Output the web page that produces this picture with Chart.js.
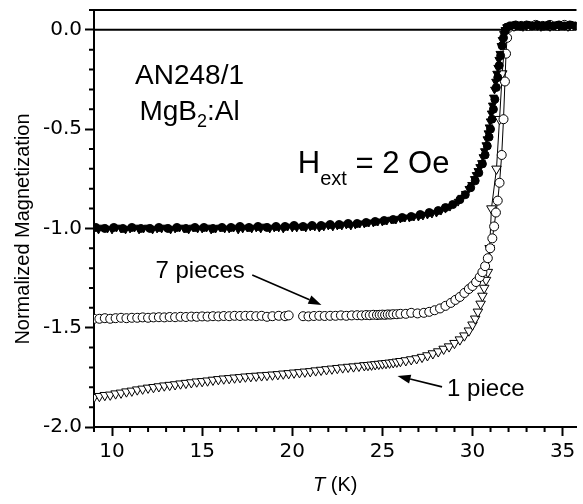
<!DOCTYPE html>
<html>
<head>
<meta charset="utf-8">
<script src="https://cdn.jsdelivr.net/npm/chart.js@4"></script>
<style>
  html, body { margin: 0; padding: 0; background: #fff; }
  canvas { display: block; }
</style>
</head>
<body>
<canvas id="graficoMagnetizacao" width="583" height="504"></canvas>
<script>
// Temperatura (K) e magnetização normalizada de cada série

// 7 pedaços, círculos abertos
const tSeteAberto = [9.0, 9.3, 9.6, 9.9, 10.2, 10.5, 10.8, 11.1, 11.4, 11.7, 12.0, 12.3, 12.6, 12.9, 13.2, 13.5, 13.8, 14.1, 14.4, 14.7,
    15.0, 15.3, 15.6, 15.9, 16.2, 16.5, 16.8, 17.1, 17.4, 17.7, 18.0, 18.3, 18.6, 18.9, 19.25, 19.6, 19.8,
    20.6, 20.9, 21.2, 21.5, 21.8, 22.1, 22.4, 22.7, 23.0, 23.3, 23.6, 23.85, 24.1, 24.3, 24.5, 24.7, 24.85, 25.0, 25.15, 25.3,
    25.45, 25.6, 25.8, 26.0, 26.3, 26.6, 26.95, 27.3, 27.6, 27.9, 28.2, 28.5, 28.8, 29.05, 29.3, 29.55, 29.8, 30.0, 30.2, 30.4,
    30.55, 30.7, 30.85, 30.98, 31.1, 31.2, 31.3, 31.4, 31.5, 31.62, 31.72, 31.8, 31.86, 31.92, 32.0, 32.3, 32.7, 33.1, 33.5,
    33.9, 34.3, 34.7, 35.1, 35.5];
const mSeteAberto = [-1.455, -1.455, -1.452, -1.455, -1.452, -1.45, -1.452, -1.45, -1.45, -1.448, -1.45, -1.448, -1.447, -1.448, -1.446, -1.447, -1.445, -1.446, -1.444, -1.445,
    -1.443, -1.444, -1.442, -1.443, -1.441, -1.442, -1.44, -1.441, -1.44, -1.44, -1.442, -1.44, -1.445, -1.442, -1.44, -1.442, -1.438,
    -1.442, -1.443, -1.441, -1.44, -1.441, -1.44, -1.44, -1.438, -1.44, -1.438, -1.437, -1.438, -1.436, -1.437, -1.435, -1.436, -1.435, -1.434, -1.435, -1.433,
    -1.434, -1.432, -1.432, -1.43, -1.43, -1.425, -1.428, -1.425, -1.42, -1.412, -1.403, -1.39, -1.375, -1.36, -1.345, -1.325, -1.305, -1.29, -1.27, -1.245,
    -1.22, -1.19, -1.15, -1.10, -1.05, -0.99, -0.92, -0.86, -0.77, -0.63, -0.45, -0.26, -0.12, -0.04, 0.01, 0.02, 0.02, 0.02, 0.025,
    0.02, 0.025, 0.02, 0.025, 0.02];

// 1 pedaço, triângulos abertos
const tUmAberto = [9.0, 9.3, 9.6, 9.9, 10.2, 10.5, 10.8, 11.1, 11.4, 11.7, 12.0, 12.3, 12.6, 12.9, 13.2, 13.5, 13.8, 14.1, 14.4, 14.7,
    15.0, 15.3, 15.6, 15.9, 16.2, 16.5, 16.8, 17.1, 17.4, 17.7, 18.0, 18.3, 18.6, 18.9, 19.2, 19.5, 19.8, 20.1, 20.4, 20.7,
    21.0, 21.3, 21.6, 21.9, 22.2, 22.5, 22.8, 23.1, 23.4, 23.7, 24.0, 24.2, 24.4, 24.6, 24.8, 25.0, 25.2, 25.4, 25.6, 25.8,
    26.0, 26.3, 26.6, 26.9, 27.2, 27.5, 27.8, 28.1, 28.4, 28.7, 29.0, 29.3, 29.55, 29.8, 30.0, 30.15, 30.3, 30.45, 30.55, 30.65,
    30.75, 30.85, 30.95, 31.05, 31.33, 31.5, 31.65, 31.8, 31.95, 32.3, 32.8, 33.3, 33.8, 34.3, 34.8, 35.3];
const mUmAberto = [-1.85, -1.845, -1.84, -1.838, -1.832, -1.828, -1.822, -1.818, -1.812, -1.808, -1.803, -1.8, -1.796, -1.792, -1.789, -1.786, -1.782, -1.779, -1.776, -1.772,
    -1.77, -1.767, -1.763, -1.76, -1.757, -1.755, -1.752, -1.75, -1.747, -1.745, -1.743, -1.741, -1.739, -1.737, -1.735, -1.732, -1.73, -1.727, -1.725, -1.722,
    -1.72, -1.716, -1.713, -1.71, -1.707, -1.704, -1.701, -1.698, -1.696, -1.693, -1.69, -1.689, -1.687, -1.685, -1.683, -1.681, -1.679, -1.677, -1.675, -1.672,
    -1.669, -1.665, -1.66, -1.655, -1.648, -1.64, -1.63, -1.62, -1.607, -1.595, -1.578, -1.56, -1.54, -1.515, -1.485, -1.455, -1.42, -1.38, -1.34, -1.30,
    -1.26, -1.22, -1.10, -0.90, -0.70, -0.45, -0.22, -0.05, 0.01, 0.02, 0.02, 0.025, 0.02, 0.02, 0.025, 0.02];

// triângulos cheios
const tTrianguloCheio = [9.0, 9.25, 9.5, 9.75, 10.0, 10.25, 10.5, 10.75, 11.0, 11.25, 11.5, 11.75, 12.0, 12.25, 12.5, 12.75, 13.0, 13.25, 13.5, 13.75,
    14.0, 14.25, 14.5, 14.75, 15.0, 15.25, 15.5, 15.75, 16.0, 16.25, 16.5, 16.75, 17.0, 17.25, 17.5, 17.75, 18.0, 18.25, 18.5, 18.75,
    19.0, 19.25, 19.5, 19.75, 20.0, 20.25, 20.5, 20.75, 21.0, 21.25, 21.5, 21.75, 22.0, 22.25, 22.5, 22.75, 23.0, 23.25, 23.5, 23.75,
    24.0, 24.25, 24.5, 24.75, 25.0, 25.25, 25.5, 25.75, 26.0, 26.25, 26.5, 26.75, 27.0, 27.25, 27.5, 27.75, 28.0, 28.25, 28.5, 28.75,
    29.0, 29.2, 29.4, 29.6, 29.8, 29.95, 30.1, 30.2, 30.3, 30.4, 30.5, 30.58, 30.66, 30.74, 30.8, 30.86, 30.92, 30.98, 31.04, 31.1,
    31.16, 31.22, 31.28, 31.34, 31.4, 31.46, 31.52, 31.58, 31.64, 31.72, 31.8, 31.9, 32.0, 32.2, 32.4, 32.6, 32.8, 33.0, 33.2, 33.4,
    33.6, 33.8, 34.0, 34.2, 34.4, 34.6, 34.8, 35.0, 35.2, 35.4, 35.6, 35.8];
const mTrianguloCheio = [-1.0, -1.005, -0.995, -1.0, -1.005, -0.995, -1.0, -1.005, -1.0, -0.995, -1.005, -1.0, -0.995, -1.005, -1.0, -1.0, -0.995, -1.005, -1.0, -0.995,
    -1.0, -1.005, -0.995, -1.0, -1.0, -0.995, -1.005, -1.0, -0.995, -1.0, -1.0, -0.995, -1.005, -1.0, -0.995, -1.0, -0.995, -1.0, -0.99, -1.0,
    -0.995, -0.995, -1.0, -0.99, -0.995, -0.995, -0.99, -0.995, -0.99, -0.99, -0.995, -0.99, -0.985, -0.99, -0.985, -0.985, -0.98, -0.985, -0.98, -0.975,
    -0.975, -0.97, -0.97, -0.965, -0.965, -0.96, -0.955, -0.955, -0.95, -0.945, -0.945, -0.94, -0.94, -0.935, -0.93, -0.925, -0.92, -0.91, -0.90, -0.89,
    -0.875, -0.865, -0.845, -0.825, -0.80, -0.78, -0.75, -0.73, -0.71, -0.69, -0.67, -0.64, -0.61, -0.58, -0.55, -0.52, -0.49, -0.46, -0.42, -0.38,
    -0.34, -0.30, -0.26, -0.22, -0.19, -0.15, -0.12, -0.08, -0.05, -0.02, 0.0, 0.015, 0.02, 0.025, 0.02, 0.025, 0.025, 0.02, 0.025, 0.025,
    0.02, 0.025, 0.025, 0.02, 0.025, 0.025, 0.02, 0.025, 0.025, 0.02, 0.025, 0.025];

// círculos cheios
const tCirculoCheio = [9.1, 9.6, 10.1, 10.6, 11.1, 11.6, 12.1, 12.6, 13.1, 13.6, 14.1, 14.6, 15.1, 15.6, 16.1, 16.6, 17.1, 17.6, 18.1, 18.6,
    19.1, 19.6, 20.1, 20.6, 21.1, 21.6, 22.1, 22.6, 23.1, 23.6, 24.1, 24.6, 25.1, 25.6, 26.1, 26.6, 27.1, 27.6, 28.1, 28.5,
    28.9, 29.3, 29.6, 29.9, 30.15, 30.35, 30.55, 30.7, 30.82, 30.92, 31.0, 31.08, 31.16, 31.24, 31.32, 31.4, 31.48, 31.56, 31.64, 31.72,
    31.82, 31.95, 32.1, 32.4, 32.7, 33.0, 33.3, 33.6, 33.9, 34.2, 34.5, 34.8, 35.1, 35.4, 35.7];
const mCirculoCheio = [-0.995, -1.0, -0.995, -1.0, -0.995, -1.0, -1.0, -0.995, -1.0, -0.995, -1.0, -0.995, -0.995, -1.0, -0.995, -0.995, -0.99, -0.995, -0.99, -0.995,
    -0.99, -0.99, -0.985, -0.99, -0.985, -0.985, -0.98, -0.98, -0.975, -0.975, -0.97, -0.965, -0.96, -0.955, -0.945, -0.94, -0.93, -0.92, -0.91, -0.895,
    -0.88, -0.855, -0.83, -0.795, -0.76, -0.72, -0.675, -0.63, -0.585, -0.54, -0.50, -0.45, -0.40, -0.35, -0.29, -0.24, -0.18, -0.13, -0.08, -0.04,
    -0.005, 0.015, 0.02, 0.025, 0.02, 0.025, 0.02, 0.025, 0.02, 0.025, 0.02, 0.025, 0.02, 0.025, 0.02];

// eixos
const LIMITES_T = [9, 35.77];
const LIMITES_M = [-2.0, 0.1];
const ROTULOS_X = [10, 15, 20, 25, 30, 35];
const ROTULOS_Y = ['-2.0', '-1.5', '-1.0', '-0.5', '0.0'];

const FONTE = '"Liberation Sans", Arial, sans-serif';
const FONTE_TICKS = '"DejaVu Sans", sans-serif';

function pontos(ts, ms) {
    return ts.map((t, i) => ({ x: t, y: ms[i] }));
}

function multiplo(v, passo) {
    const r = v / passo;
    return Math.abs(r - Math.round(r)) < 1e-6;
}

// só liga os pontos abertos onde a curva sobe rápido (transição)
const linhaTransicao = {
    borderColor: ctx => Math.abs(ctx.p1.parsed.y - ctx.p0.parsed.y) > 0.06 ? '#000' : 'rgba(0,0,0,0)'
};

function seta(ctx, x0, y0, x1, y1) {
    const ang = Math.atan2(y1 - y0, x1 - x0);
    const comp = 13, larg = 4.5;
    const bx = x1 - Math.cos(ang) * comp;
    const by = y1 - Math.sin(ang) * comp;
    ctx.beginPath();
    ctx.moveTo(x0, y0);
    ctx.lineTo(bx, by);
    ctx.lineWidth = 1.6;
    ctx.stroke();
    ctx.beginPath();
    ctx.moveTo(x1, y1);
    ctx.lineTo(bx - Math.sin(ang) * larg, by + Math.cos(ang) * larg);
    ctx.lineTo(bx + Math.sin(ang) * larg, by - Math.cos(ang) * larg);
    ctx.closePath();
    ctx.fill();
}

const molduraEAnotacoes = {
    id: 'molduraEAnotacoes',
    beforeDatasetsDraw(chart) {
        const { ctx, chartArea: a, scales: { y } } = chart;
        // linha de referência em M = 0
        ctx.save();
        ctx.strokeStyle = '#000';
        ctx.lineWidth = 2;
        ctx.beginPath();
        ctx.moveTo(a.left, y.getPixelForValue(0));
        ctx.lineTo(a.right, y.getPixelForValue(0));
        ctx.stroke();
        ctx.restore();
    },
    afterDraw(chart) {
        const { ctx, chartArea: a, scales: { x, y } } = chart;
        const px = v => x.getPixelForValue(v);
        const py = v => y.getPixelForValue(v);
        ctx.save();
        ctx.strokeStyle = '#000';
        ctx.fillStyle = '#000';

        // borda de cima
        ctx.lineWidth = 2;
        ctx.beginPath();
        ctx.moveTo(a.left, a.top);
        ctx.lineTo(a.right, a.top);
        ctx.stroke();

        // ticks menores
        ctx.lineWidth = 2;
        ctx.beginPath();
        for (let t = 9; t <= 35; t++) {
            if (t % 5 === 0) continue;
            ctx.moveTo(px(t), a.bottom);
            ctx.lineTo(px(t), a.bottom + 5);
        }
        for (let k = -19; k <= 1; k++) {
            if (k % 5 === 0) continue;
            const v = k / 10;
            ctx.moveTo(a.left - 5, py(v));
            ctx.lineTo(a.left, py(v));
        }
        ctx.stroke();

        // textos
        ctx.textBaseline = 'alphabetic';
        ctx.textAlign = 'center';
        ctx.font = '28px ' + FONTE;
        ctx.fillText('AN248/1', px(14.3), py(-0.272));

        ctx.textAlign = 'left';
        const fGrande = '28px ' + FONTE, fSub = '18px ' + FONTE;
        ctx.font = fGrande;
        const w1 = ctx.measureText('MgB').width;
        const w3 = ctx.measureText(':Al').width;
        ctx.font = fSub;
        const w2 = ctx.measureText('2').width;
        let xm = px(14.3) - (w1 + w2 + w3) / 2;
        const ym = py(-0.453);
        ctx.font = fGrande;
        ctx.fillText('MgB', xm, ym);
        ctx.font = fSub;
        ctx.fillText('2', xm + w1, ym + 7);
        ctx.font = fGrande;
        ctx.fillText(':Al', xm + w1 + w2, ym);

        let xh = px(20.31);
        const yh = py(-0.72);
        ctx.font = '31px ' + FONTE;
        ctx.fillText('H', xh, yh);
        xh += ctx.measureText('H').width;
        ctx.font = '20px ' + FONTE;
        ctx.fillText('ext', xh, yh + 12);
        xh += ctx.measureText('ext').width;
        ctx.font = '31px ' + FONTE;
        ctx.fillText(' = 2 Oe', xh, yh);

        ctx.font = '24px ' + FONTE;
        ctx.fillText('7 pieces', px(12.41), py(-1.249));
        ctx.fillText('1 piece', px(28.59), py(-1.844));

        seta(ctx, px(17.78), py(-1.234), px(21.62), py(-1.385));
        seta(ctx, px(28.31), py(-1.798), px(25.84), py(-1.743));

        // título do eixo x: T em itálico
        ctx.font = 'italic 20px ' + FONTE;
        const wT = ctx.measureText('T').width;
        ctx.font = '20px ' + FONTE;
        const wK = ctx.measureText(' (K)').width;
        const xt = (a.left + a.right) / 2 - (wT + wK) / 2;
        ctx.font = 'italic 20px ' + FONTE;
        ctx.fillText('T', xt, 491);
        ctx.font = '20px ' + FONTE;
        ctx.fillText(' (K)', xt + wT, 491);

        // título do eixo y
        ctx.translate(29, 229);
        ctx.rotate(-Math.PI / 2);
        ctx.textAlign = 'center';
        ctx.fillText('Normalized Magnetization', 0, 0);
        ctx.restore();
    }
};

const ctx = document.getElementById('graficoMagnetizacao').getContext('2d');

const chart = new Chart(ctx, {
    type: 'scatter',
    data: {
        datasets: [
            {
                label: 'cheio (triângulos)',
                data: pontos(tTrianguloCheio, mTrianguloCheio),
                pointStyle: 'triangle',
                rotation: 180,
                pointRadius: 4.5,
                backgroundColor: '#000',
                borderColor: '#000',
                borderWidth: 1
            },
            {
                label: 'cheio (círculos)',
                data: pontos(tCirculoCheio, mCirculoCheio),
                pointStyle: 'circle',
                pointRadius: 4,
                backgroundColor: '#000',
                borderColor: '#000',
                borderWidth: 1
            },
            {
                label: '7 pieces',
                data: pontos(tSeteAberto, mSeteAberto),
                showLine: true,
                borderWidth: 1,
                segment: linhaTransicao,
                pointStyle: 'circle',
                pointRadius: 4.5,
                pointBackgroundColor: '#fff',
                pointBorderColor: '#000',
                pointBorderWidth: 1
            },
            {
                label: '1 piece',
                data: pontos(tUmAberto, mUmAberto),
                showLine: true,
                borderWidth: 1,
                segment: linhaTransicao,
                pointStyle: 'triangle',
                rotation: 180,
                pointRadius: 5.5,
                pointBackgroundColor: '#fff',
                pointBorderColor: '#000',
                pointBorderWidth: 1
            }
        ]
    },
    plugins: [molduraEAnotacoes],
    options: {
        responsive: false,
        animation: false,
        layout: { padding: { top: 10, right: 0, bottom: 0, left: 0 } },
        plugins: {
            legend: { display: false },
            tooltip: { enabled: false }
        },
        scales: {
            x: {
                type: 'linear',
                min: LIMITES_T[0],
                max: LIMITES_T[1],
                border: { display: true, color: '#000', width: 2 },
                grid: {
                    drawOnChartArea: false,
                    tickLength: 9,
                    tickWidth: 2,
                    tickColor: c => ROTULOS_X.includes(c.tick.value) ? '#000' : 'rgba(0,0,0,0)'
                },
                ticks: {
                    stepSize: 1,
                    includeBounds: false,
                    autoSkip: false,
                    maxRotation: 0,
                    padding: 4,
                    color: '#000',
                    font: { family: FONTE_TICKS, size: 20 },
                    callback: v => ROTULOS_X.includes(v) ? String(v) : ''
                },
                afterFit: s => { s.height = 77; s.paddingLeft = 0; s.paddingRight = 0; }
            },
            y: {
                type: 'linear',
                min: LIMITES_M[0],
                max: LIMITES_M[1],
                border: { display: true, color: '#000', width: 2 },
                grid: {
                    drawOnChartArea: false,
                    tickLength: 9,
                    tickWidth: 2,
                    tickColor: c => multiplo(c.tick.value, 0.5) ? '#000' : 'rgba(0,0,0,0)'
                },
                ticks: {
                    stepSize: 0.1,
                    includeBounds: false,
                    autoSkip: false,
                    padding: 3,
                    color: '#000',
                    font: { family: FONTE_TICKS, size: 20 },
                    callback: v => multiplo(v, 0.5) ? ROTULOS_Y[Math.round(v * 2) + 4] : ''
                },
                afterFit: s => { s.width = 94; s.paddingTop = 0; s.paddingBottom = 0; }
            }
        }
    }
});
</script>
</body>
</html>
